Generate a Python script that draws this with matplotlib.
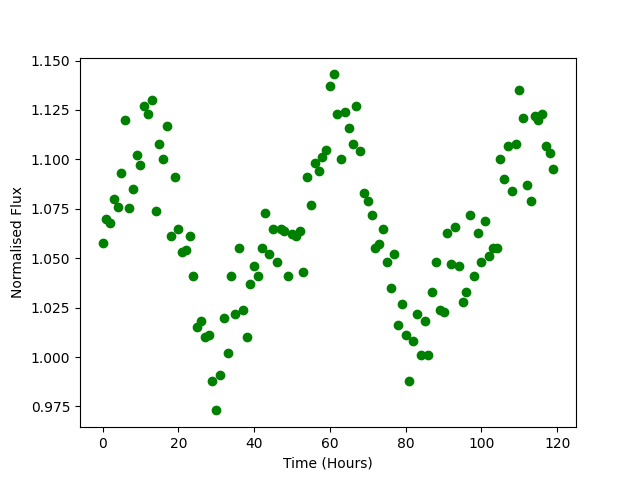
import numpy as np
import matplotlib
matplotlib.use("Agg")
import matplotlib.pyplot as plt

# hourly samples
time_hours = list(range(120))
flux = [
    1.0575, 1.070, 1.068, 1.080, 1.076, 1.093, 1.120, 1.0755, 1.085, 1.102,
    1.097, 1.127, 1.123, 1.130, 1.074, 1.108, 1.100, 1.117, 1.061, 1.091,
    1.065, 1.053, 1.054, 1.061, 1.041, 1.015, 1.018, 1.010, 1.011, 0.988,
    0.973, 0.991, 1.020, 1.002, 1.041, 1.022, 1.055, 1.024, 1.010, 1.037,
    1.046, 1.041, 1.055, 1.073, 1.052, 1.065, 1.048, 1.065, 1.064, 1.041,
    1.062, 1.061, 1.064, 1.043, 1.091, 1.077, 1.098, 1.094, 1.101, 1.105,
    1.137, 1.143, 1.123, 1.100, 1.124, 1.116, 1.108, 1.127, 1.104, 1.083,
    1.079, 1.072, 1.055, 1.057, 1.065, 1.048, 1.035, 1.052, 1.016, 1.027,
    1.011, 0.988, 1.008, 1.022, 1.001, 1.018, 1.001, 1.033, 1.048, 1.024,
    1.023, 1.063, 1.047, 1.066, 1.046, 1.028, 1.033, 1.072, 1.041, 1.063,
    1.048, 1.069, 1.051, 1.055, 1.055, 1.100, 1.090, 1.107, 1.084, 1.108,
    1.135, 1.121, 1.087, 1.079, 1.122, 1.120, 1.123, 1.107, 1.103, 1.095,
]

fig = plt.figure(figsize=(6.4, 4.8), dpi=100)
plt.plot(time_hours, flux, 'go')
plt.xlabel('Time (Hours)')
plt.ylabel('Normalised Flux')
plt.savefig('out.png')
